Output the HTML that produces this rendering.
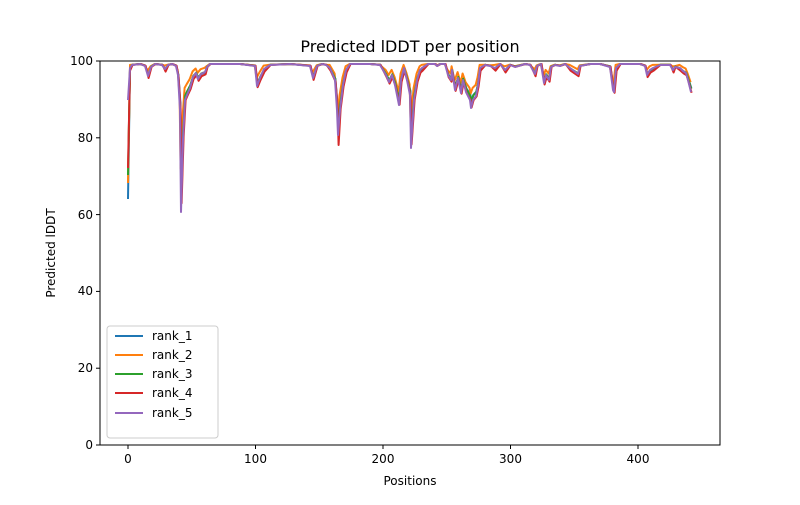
<!DOCTYPE html>
<html><head><style>
body{margin:0;background:#fff}
svg text{font-family:"DejaVu Sans","Liberation Sans",sans-serif;fill:#000}
</style></head><body>
<svg id="s" width="800" height="500" xmlns="http://www.w3.org/2000/svg">
<rect width="800" height="500" fill="#fff"/>
<text x="410" y="52" font-size="16" text-anchor="middle">Predicted lDDT per position</text>
<g id="lines"></g>
<rect x="100" y="61" width="620" height="384" fill="none" stroke="#000" stroke-width="1"/>
<g font-size="12" text-anchor="middle">
<line x1="128" y1="445" x2="128" y2="449" stroke="#000"/><text x="128" y="463">0</text>
<line x1="255.5" y1="445" x2="255.5" y2="449" stroke="#000"/><text x="255.5" y="463">100</text>
<line x1="383" y1="445" x2="383" y2="449" stroke="#000"/><text x="383" y="463">200</text>
<line x1="510.5" y1="445" x2="510.5" y2="449" stroke="#000"/><text x="510.5" y="463">300</text>
<line x1="638" y1="445" x2="638" y2="449" stroke="#000"/><text x="638" y="463">400</text>
<text x="410" y="485">Positions</text>
</g>
<g font-size="12" text-anchor="end">
<line x1="96" y1="445" x2="100" y2="445" stroke="#000"/><text x="93" y="449">0</text>
<line x1="96" y1="368.2" x2="100" y2="368.2" stroke="#000"/><text x="93" y="372">20</text>
<line x1="96" y1="291.4" x2="100" y2="291.4" stroke="#000"/><text x="93" y="295">40</text>
<line x1="96" y1="214.6" x2="100" y2="214.6" stroke="#000"/><text x="93" y="219">60</text>
<line x1="96" y1="137.8" x2="100" y2="137.8" stroke="#000"/><text x="93" y="142">80</text>
<line x1="96" y1="61" x2="100" y2="61" stroke="#000"/><text x="93" y="65">100</text>
</g>
<text transform="translate(55,253) rotate(-90)" font-size="12" text-anchor="middle">Predicted lDDT</text>
<rect x="107" y="326" width="111" height="112" rx="3" fill="#fff" fill-opacity="0.8" stroke="#ccc"/>
<g font-size="12" stroke-width="2">
<line x1="115" y1="336" x2="143" y2="336" stroke="#1f77b4"/><text x="152" y="340" stroke="none">rank_1</text>
<line x1="115" y1="355" x2="143" y2="355" stroke="#ff7f0e"/><text x="152" y="359" stroke="none">rank_2</text>
<line x1="115" y1="374" x2="143" y2="374" stroke="#2ca02c"/><text x="152" y="378" stroke="none">rank_3</text>
<line x1="115" y1="393" x2="143" y2="393" stroke="#d62728"/><text x="152" y="397" stroke="none">rank_4</text>
<line x1="115" y1="413" x2="143" y2="413" stroke="#9467bd"/><text x="152" y="417" stroke="none">rank_5</text>
</g>
</svg>
<script>
var b=[128,100,130,68,132,65,140,64,145,66,148,76,151,67,155,64,162,65,165,69,168,65,172,64,176,66,178,75,180,110,181,212,183,140,185,100,187,95,190,88,193,77,196,73,198,79,201,74,205,72,207,67,210,64,240,64,255,66,257,86,260,78,264,69,270,65,290,64,310,66,313,78,317,66,322,64,326,65,330,68,335,80,337,110,338,135,340,110,343,85,346,70,350,64,370,64,380,65,386,75,389,82,392,75,395,85,398,100,399,105,401,80,404,68,407,80,410,95,411,148,414,100,417,80,420,70,422,68,428,64,435,64,437,66,440,64,445,64,448,75,451,80,452,70,455,90,458,78,461,93,463,80,466,92,470,100,471,108,473,100,476,96,478,85,480,68,485,65,490,66,495,68,500,64,505,70,510,65,515,67,525,64,530,65,535,74,537,66,541,64,544,83,546,75,549,80,551,67,555,65,560,66,565,64,570,68,578,74,580,66,590,64,600,64,610,67,613,90,614,92,616,68,620,64,640,64,645,66,647,75,650,70,653,68,660,65,670,65,673,70,675,67,680,68,683,71,686,73,688,80,691,92];
var S=[["#1f77b4",0.8,199,1],["#ff7f0e",0.72,183,-1],["#2ca02c",0.85,175,0.5],["#d62728",0.92,168,1.5],["#9467bd",1,100,0]];
var g=document.getElementById("lines"),h="";
S.forEach(function(s){var p="M128,"+s[2];for(var i=2;i<b.length;i+=2){var y=b[i+1],d=y-64;y=64+d*s[1]+(d>3?s[3]*2:0);if(s[0]=="#d62728"&&b[i]==338)y=145;p+=" L"+(b[i]+(i>2?s[3]*0.4:0))+","+y.toFixed(1);}
h+='<path d="'+p+'" fill="none" stroke="'+s[0]+'" stroke-width="2" stroke-linejoin="round"/>';});
g.innerHTML=h;
</script>
</body></html>
